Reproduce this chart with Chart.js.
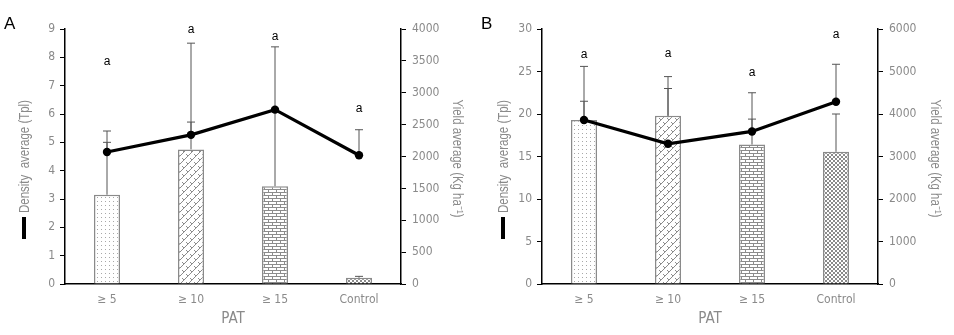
<!DOCTYPE html>
<html>
<head>
<meta charset="utf-8">
<script src="https://cdn.jsdelivr.net/npm/chart.js@4/dist/chart.umd.min.js"></script>
<style>
  html, body { margin:0; padding:0; background:#fff; }
  #wrap { position:relative; width:954px; height:335px; }
  .panel { position:absolute; top:0; width:477px; height:335px; }
</style>
</head>
<body>
<div id="wrap">
  <div class="panel" style="left:0px"><canvas id="cA" width="477" height="335"></canvas></div>
  <div class="panel" style="left:477px"><canvas id="cB" width="477" height="335"></canvas></div>
</div>
<script>
// ---------- data ----------
const categories = ['\u2265 5', '\u2265 10', '\u2265 15', 'Control'];

const densityA = [3.15, 4.75, 3.45, 0.22];
const densityErrA = [1.85, 3.75, 4.92, 0.05];
const yieldA = [2070, 2340, 2735, 2020];
const yieldErrA = [330, 200, 0, 400];
const lettersA = ['a', 'a', 'a', 'a'];
const letterPosA = [7.83, 8.96, 8.73, 6.2];

const densityB = [19.3, 19.8, 16.4, 15.55];
const densityErrB = [2.2, 3.2, 3.0, 4.45];
const yieldB = [3860, 3300, 3590, 4290];
const yieldErrB = [1260, 1580, 910, 880];
const lettersB = ['a', 'a', 'a', 'a'];
const letterPosB = [27.0, 27.1, 24.9, 29.3];

const leftMaxA = 9, leftStepA = 1, rightMaxA = 4000, rightStepA = 500;
const leftMaxB = 30, leftStepB = 5, rightMaxB = 6000, rightStepB = 1000;

const leftTitle = 'Density  average (Tpl)';
const rightTitle = 'Yield average (Kg ha\u207B\u00B9)';
const xTitle = 'PAT';

// ---------- styling ----------
const GRAY = '#8a8a8a';
const FONT = "'DejaVu Sans Condensed', 'Liberation Sans', sans-serif";

function makePattern(kind) {
  const c = document.createElement('canvas');
  const g = c.getContext('2d');
  const col = '#8c8c8c';
  if (kind === 'dots') {
    c.width = 4; c.height = 4;
    g.fillStyle = '#fff'; g.fillRect(0,0,4,4);
    g.fillStyle = '#a8a8a8'; g.fillRect(1,1,1,1);
  } else if (kind === 'diag') {
    c.width = 8; c.height = 8;
    g.fillStyle = '#fff'; g.fillRect(0,0,8,8);
    g.strokeStyle = col; g.lineWidth = 1;
    g.beginPath();
    g.moveTo(0,8); g.lineTo(8,0);
    g.moveTo(-4,4); g.lineTo(4,-4);
    g.moveTo(4,12); g.lineTo(12,4);
    g.stroke();
    g.beginPath();
    g.moveTo(2,2); g.lineTo(4,4);
    g.moveTo(6,6); g.lineTo(8,8);
    g.stroke();
  } else if (kind === 'brick') {
    c.width = 8; c.height = 6;
    g.fillStyle = '#fff'; g.fillRect(0,0,8,6);
    g.fillStyle = col;
    g.fillRect(0,0,8,1);
    g.fillRect(0,3,8,1);
    g.fillRect(0,0,1,3);
    g.fillRect(4,3,1,3);
  } else {
    c.width = 4; c.height = 4;
    g.fillStyle = '#fff'; g.fillRect(0,0,4,4);
    g.fillStyle = '#8a8a8a';
    g.fillRect(0,0,2,2); g.fillRect(2,2,2,2);
  }
  return g.createPattern(c, 'repeat');
}

const errorBarPlugin = {
  id: 'errorBars',
  beforeDatasetsDraw(chart) {
    const ctx = chart.ctx;
    ctx.save();
    ctx.strokeStyle = '#555';
    ctx.lineWidth = 1;
    chart.data.datasets.forEach((ds, di) => {
      const meta = chart.getDatasetMeta(di);
      const sc = chart.scales[meta.yAxisID];
      (ds.errors || []).forEach((e, i) => {
        if (!e) return;
        const x = meta.data[i].x;
        const y0 = sc.getPixelForValue(ds.data[i]);
        const y1 = sc.getPixelForValue(ds.data[i] + e);
        ctx.beginPath();
        ctx.moveTo(x, y0); ctx.lineTo(x, y1);
        ctx.moveTo(x - 4, y1); ctx.lineTo(x + 4, y1);
        ctx.stroke();
      });
    });
    ctx.restore();
  }
};

const annotPlugin = {
  id: 'annot',
  afterDraw(chart, args, opts) {
    const ctx = chart.ctx;
    const xs = chart.scales.x, ys = chart.scales.y;
    const ca = chart.chartArea;
    ctx.save();
    ctx.fillStyle = '#000';
    ctx.font = "12px 'Liberation Sans', sans-serif";
    ctx.textAlign = 'center';
    ctx.textBaseline = 'middle';
    opts.letters.forEach((t, i) => {
      ctx.fillText(t, xs.getPixelForValue(i), ys.getPixelForValue(opts.letterPos[i]));
    });
    // panel label
    ctx.font = "17px 'Liberation Sans', sans-serif";
    ctx.textAlign = 'left';
    ctx.textBaseline = 'alphabetic';
    ctx.fillText(opts.panel, 4, 29);
    // legend marker (black bar under left title)
    ctx.fillRect(opts.markX, 217, 4, 22);

    // axis titles (condensed via maxWidth)
    const midY = (ca.top + ca.bottom) / 2;
    ctx.fillStyle = GRAY;
    ctx.font = "14px 'Liberation Sans', sans-serif";
    ctx.textAlign = 'center';
    ctx.textBaseline = 'middle';
    ctx.save();
    ctx.translate(opts.leftTitleX, midY);
    ctx.rotate(-Math.PI / 2);
    ctx.fillText(leftTitle, 0, 0, 113);
    ctx.restore();
    ctx.save();
    ctx.translate(chart.width - opts.rightTitleOff, midY + 2);
    ctx.rotate(Math.PI / 2);
    ctx.fillText(rightTitle, 0, 0, 118);
    ctx.restore();
    ctx.restore();
  }
};

function makeChart(id, panel, dens, densErr, yld, yldErr, letters, letterPos, lmax, lstep, rmax, rstep, markX, leftTitleX, rightTitleOff) {
  const pats = [makePattern('dots'), makePattern('diag'), makePattern('brick'), makePattern('check')];
  return new Chart(document.getElementById(id), {
    data: {
      labels: categories,
      datasets: [
        {
          type: 'line', label: 'Yield', data: yld, errors: yldErr, yAxisID: 'y1',
          borderColor: '#000', borderWidth: 3.2, backgroundColor: '#000',
          pointRadius: 4.2, pointBackgroundColor: '#000', pointBorderWidth: 0,
          tension: 0, order: 0
        },
        {
          type: 'bar', label: 'Density', data: dens, errors: densErr, yAxisID: 'y',
          backgroundColor: pats, borderColor: '#8a8a8a', borderWidth: 1.5,
          barPercentage: 0.31, categoryPercentage: 1, order: 1
        }
      ]
    },
    options: {
      responsive: false,
      animation: false,
      devicePixelRatio: 1,
      layout: { padding: { top: 29, left: 0, right: 0, bottom: 0 } },
      plugins: {
        legend: { display: false },
        tooltip: { enabled: false },
        annot: { letters, letterPos, panel, markX, leftTitleX, rightTitleOff }
      },
      scales: {
        x: {
          grid: { display: false, drawTicks: false },
          border: { display: true, color: '#000', width: 1.5 },
          ticks: { color: GRAY, font: { family: FONT, size: 12 }, padding: 9 },
          title: { display: true, text: xTitle, color: GRAY, font: { family: FONT, size: 15 }, padding: { top: 0, bottom: 7 } },
          afterFit(s) { s.height = 51; }
        },
        y: {
          position: 'left', min: 0, max: lmax,
          grid: { display: true, drawOnChartArea: false, drawTicks: true, tickLength: 5, color: '#000' },
          border: { display: true, color: '#000', width: 1.5 },
          ticks: { stepSize: lstep, color: GRAY, font: { family: FONT, size: 12 }, padding: 5, callback: v => String(v) },
          afterFit(s) { s.width = 65; }
        },
        y1: {
          position: 'right', min: 0, max: rmax,
          grid: { display: true, drawOnChartArea: false, drawTicks: true, tickLength: 5, color: '#000' },
          border: { display: true, color: '#000', width: 1.5 },
          ticks: { stepSize: rstep, color: GRAY, font: { family: FONT, size: 12 }, padding: 6, callback: v => String(v) },
          afterFit(s) { s.width = 76; }
        }
      }
    },
    plugins: [errorBarPlugin, annotPlugin]
  });
}

makeChart('cA', 'A', densityA, densityErrA, yieldA, yieldErrA, lettersA, letterPosA, leftMaxA, leftStepA, rightMaxA, rightStepA, 22, 25, 20);
makeChart('cB', 'B', densityB, densityErrB, yieldB, yieldErrB, lettersB, letterPosB, leftMaxB, leftStepB, rightMaxB, rightStepB, 24, 27, 19);
</script>
</body>
</html>
